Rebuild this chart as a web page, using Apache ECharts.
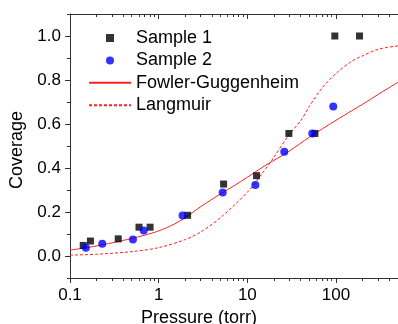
<!DOCTYPE html>
<html><head><meta charset="utf-8">
<script src="https://cdn.jsdelivr.net/npm/echarts@6/dist/echarts.min.js"></script>
<style>html,body{margin:0;padding:0;background:#fff}#c{width:398px;height:324px}</style>
</head><body><div id="c"></div>
<script>
// Sample 1 (black squares)
const s1Pressure = [0.141, 0.17, 0.35, 0.60, 0.80, 2.12, 5.4, 12.7, 29.4, 57.8, 97, 184];
const s1Coverage = [0.048, 0.068, 0.078, 0.131, 0.131, 0.185, 0.327, 0.365, 0.557, 0.557, 1.0, 1.0];
// Sample 2 (blue circles)
const s2Pressure = [0.151, 0.231, 0.513, 0.678, 1.86, 5.27, 12.3, 26.1, 54, 93];
const s2Coverage = [0.038, 0.056, 0.075, 0.116, 0.184, 0.289, 0.323, 0.474, 0.557, 0.68];
// Fowler-Guggenheim fit (solid)
const fgPressure = [0.1, 0.15, 0.2, 0.3, 0.5, 0.7, 1, 1.5, 2, 3, 5, 7, 10, 15, 20, 30, 50, 70, 100, 150, 200, 300, 500];
const fgCoverage = [0.027, 0.037, 0.046, 0.060, 0.080, 0.095, 0.114, 0.145, 0.175, 0.225, 0.283, 0.318, 0.358, 0.405, 0.435, 0.478, 0.540, 0.578, 0.617, 0.660, 0.690, 0.735, 0.790];
// Langmuir fit (dashed)
const lmPressure = [0.1, 0.2, 0.5, 1, 2, 3, 5, 10, 15, 20, 30, 40, 50, 70, 100, 150, 200, 300, 500];
const lmCoverage = [0.004, 0.008, 0.02, 0.038, 0.075, 0.11, 0.175, 0.29, 0.38, 0.45, 0.555, 0.615, 0.68, 0.765, 0.83, 0.885, 0.91, 0.94, 0.955];
// Tick labels / tick values
const xMajorTicks = [0.1, 1, 10, 100];
const xMinorTicks = [0.2, 0.3, 0.4, 0.5, 0.6, 0.7, 0.8, 0.9, 2, 3, 4, 5, 6, 7, 8, 9, 20, 30, 40, 50, 60, 70, 80, 90, 200, 300, 400];
const yMajorTicks = [0, 0.2, 0.4, 0.6, 0.8, 1.0];
const yMinorTicks = [-0.1, 0.1, 0.3, 0.5, 0.7, 0.9, 1.1];
const xTitle = 'Pressure (torr)';
const yTitle = 'Coverage';

const zip = (a, b) => a.map((v, i) => [v, b[i]]);
const FONT = 'Liberation Sans, Arial, sans-serif';
const AX = '#333';
const X_MIN = 0.1, X_MAX = 500, Y_MIN = -0.1, Y_MAX = 1.1;
const MAJOR_LEN = 5, MINOR_LEN = 3;

const chart = echarts.init(document.getElementById('c'), null, {renderer: 'canvas'});

const titleGraphics = [
  {type: 'text', left: 'center', x: 0, top: 309, z: 10,
    style: {text: xTitle, fill: '#000', font: '18px ' + FONT}},
  {type: 'text', x: 8, y: 150, rotation: Math.PI / 2, z: 10,
    style: {text: yTitle, fill: '#000', font: '18px ' + FONT, align: 'center', verticalAlign: 'top'}}
];

chart.setOption({
  animation: false,
  backgroundColor: '#fff',
  grid: {left: 70, right: 0, top: 14, bottom: 46, containLabel: false, outerBoundsMode: 'none'},
  graphic: {elements: titleGraphics},
  xAxis: [
    {type: 'log', logBase: 10, min: X_MIN, max: X_MAX, position: 'bottom', splitLine: {show: false},
      axisLine: {show: true, onZero: false, lineStyle: {color: AX, width: 1}},
      axisTick: {show: false}, minorTick: {show: false},
      axisLabel: {show: true, customValues: xMajorTicks, margin: 9, color: '#000', fontSize: 17, fontFamily: FONT,
        formatter: v => String(+(+v).toPrecision(3))}},
    {type: 'log', logBase: 10, min: X_MIN, max: X_MAX, position: 'top', splitLine: {show: false},
      axisLine: {show: true, onZero: false, lineStyle: {color: AX, width: 1}},
      axisTick: {show: false}, minorTick: {show: false}, axisLabel: {show: false}}
  ],
  yAxis: [
    {type: 'value', min: Y_MIN, max: Y_MAX, position: 'left', splitLine: {show: false},
      axisLine: {show: true, onZero: false, lineStyle: {color: AX, width: 1}},
      axisTick: {show: false},
      axisLabel: {show: true, customValues: yMajorTicks, margin: 9, color: '#000', fontSize: 17, fontFamily: FONT,
        formatter: v => (+v).toFixed(1)}}
  ],
  legend: {
    orient: 'vertical', left: 83, top: 24, itemWidth: 42, itemHeight: 8, itemGap: 4.4,
    textStyle: {color: '#000', fontSize: 18, fontFamily: FONT},
    data: [
      {name: 'Sample 1', icon: 'path://M0,0L1,0L1,1L0,1Z'},
      {name: 'Sample 2', icon: 'circle'},
      {name: 'Fowler-Guggenheim', itemStyle: {opacity: 0}},
      {name: 'Langmuir', itemStyle: {opacity: 0}}
    ]
  },
  series: [
    {name: 'Fowler-Guggenheim', type: 'line', data: zip(fgPressure, fgCoverage),
      smooth: 0.3, symbol: 'none', color: '#ff2020', lineStyle: {color: '#ff2020', width: 1}, z: 2},
    {name: 'Langmuir', type: 'line', data: zip(lmPressure, lmCoverage),
      smooth: 0.3, symbol: 'none', color: '#ff2020', lineStyle: {color: '#ff2020', width: 1, type: [3, 2]}, z: 2},
    {name: 'Sample 1', type: 'scatter', data: zip(s1Pressure, s1Coverage),
      symbol: 'rect', symbolSize: 7, itemStyle: {color: '#000'}, z: 3},
    {name: 'Sample 2', type: 'scatter', data: zip(s2Pressure, s2Coverage),
      symbol: 'circle', symbolSize: 8, itemStyle: {color: '#0000ff'}, z: 3}
  ]
});

// Tick marks placed through the chart's own scales
const crisp = v => Math.round(v - 0.5) + 0.5;
const toPx = (x, y) => chart.convertToPixel({gridIndex: 0}, [x, y]);
const tickLine = (x1, y1, x2, y2) => ({type: 'line', z: 10, silent: true,
  shape: {x1, y1, x2, y2}, style: {stroke: AX, lineWidth: 1}});
const tickGraphics = [];
const addXTick = (v, L) => {
  const pb = toPx(v, Y_MIN), pt = toPx(v, Y_MAX);
  const x = crisp(pb[0]);
  const yb = Math.round(pb[1]), yt = Math.round(pt[1]);
  tickGraphics.push(tickLine(x, yb, x, yb + L));   // bottom, outward
  tickGraphics.push(tickLine(x, yt, x, yt + L));   // top, inward
};
const addYTick = (v, L) => {
  const p = toPx(X_MIN, v);
  const y = crisp(p[1]);
  const x = Math.round(p[0]);
  tickGraphics.push(tickLine(x - L, y, x, y));     // left, outward
};
xMajorTicks.forEach(v => addXTick(v, MAJOR_LEN));
xMinorTicks.forEach(v => addXTick(v, MINOR_LEN));
yMajorTicks.forEach(v => addYTick(v, MAJOR_LEN));
yMinorTicks.forEach(v => addYTick(v, MINOR_LEN));

chart.setOption({graphic: {elements: titleGraphics.concat(tickGraphics)}});
</script></body></html>
